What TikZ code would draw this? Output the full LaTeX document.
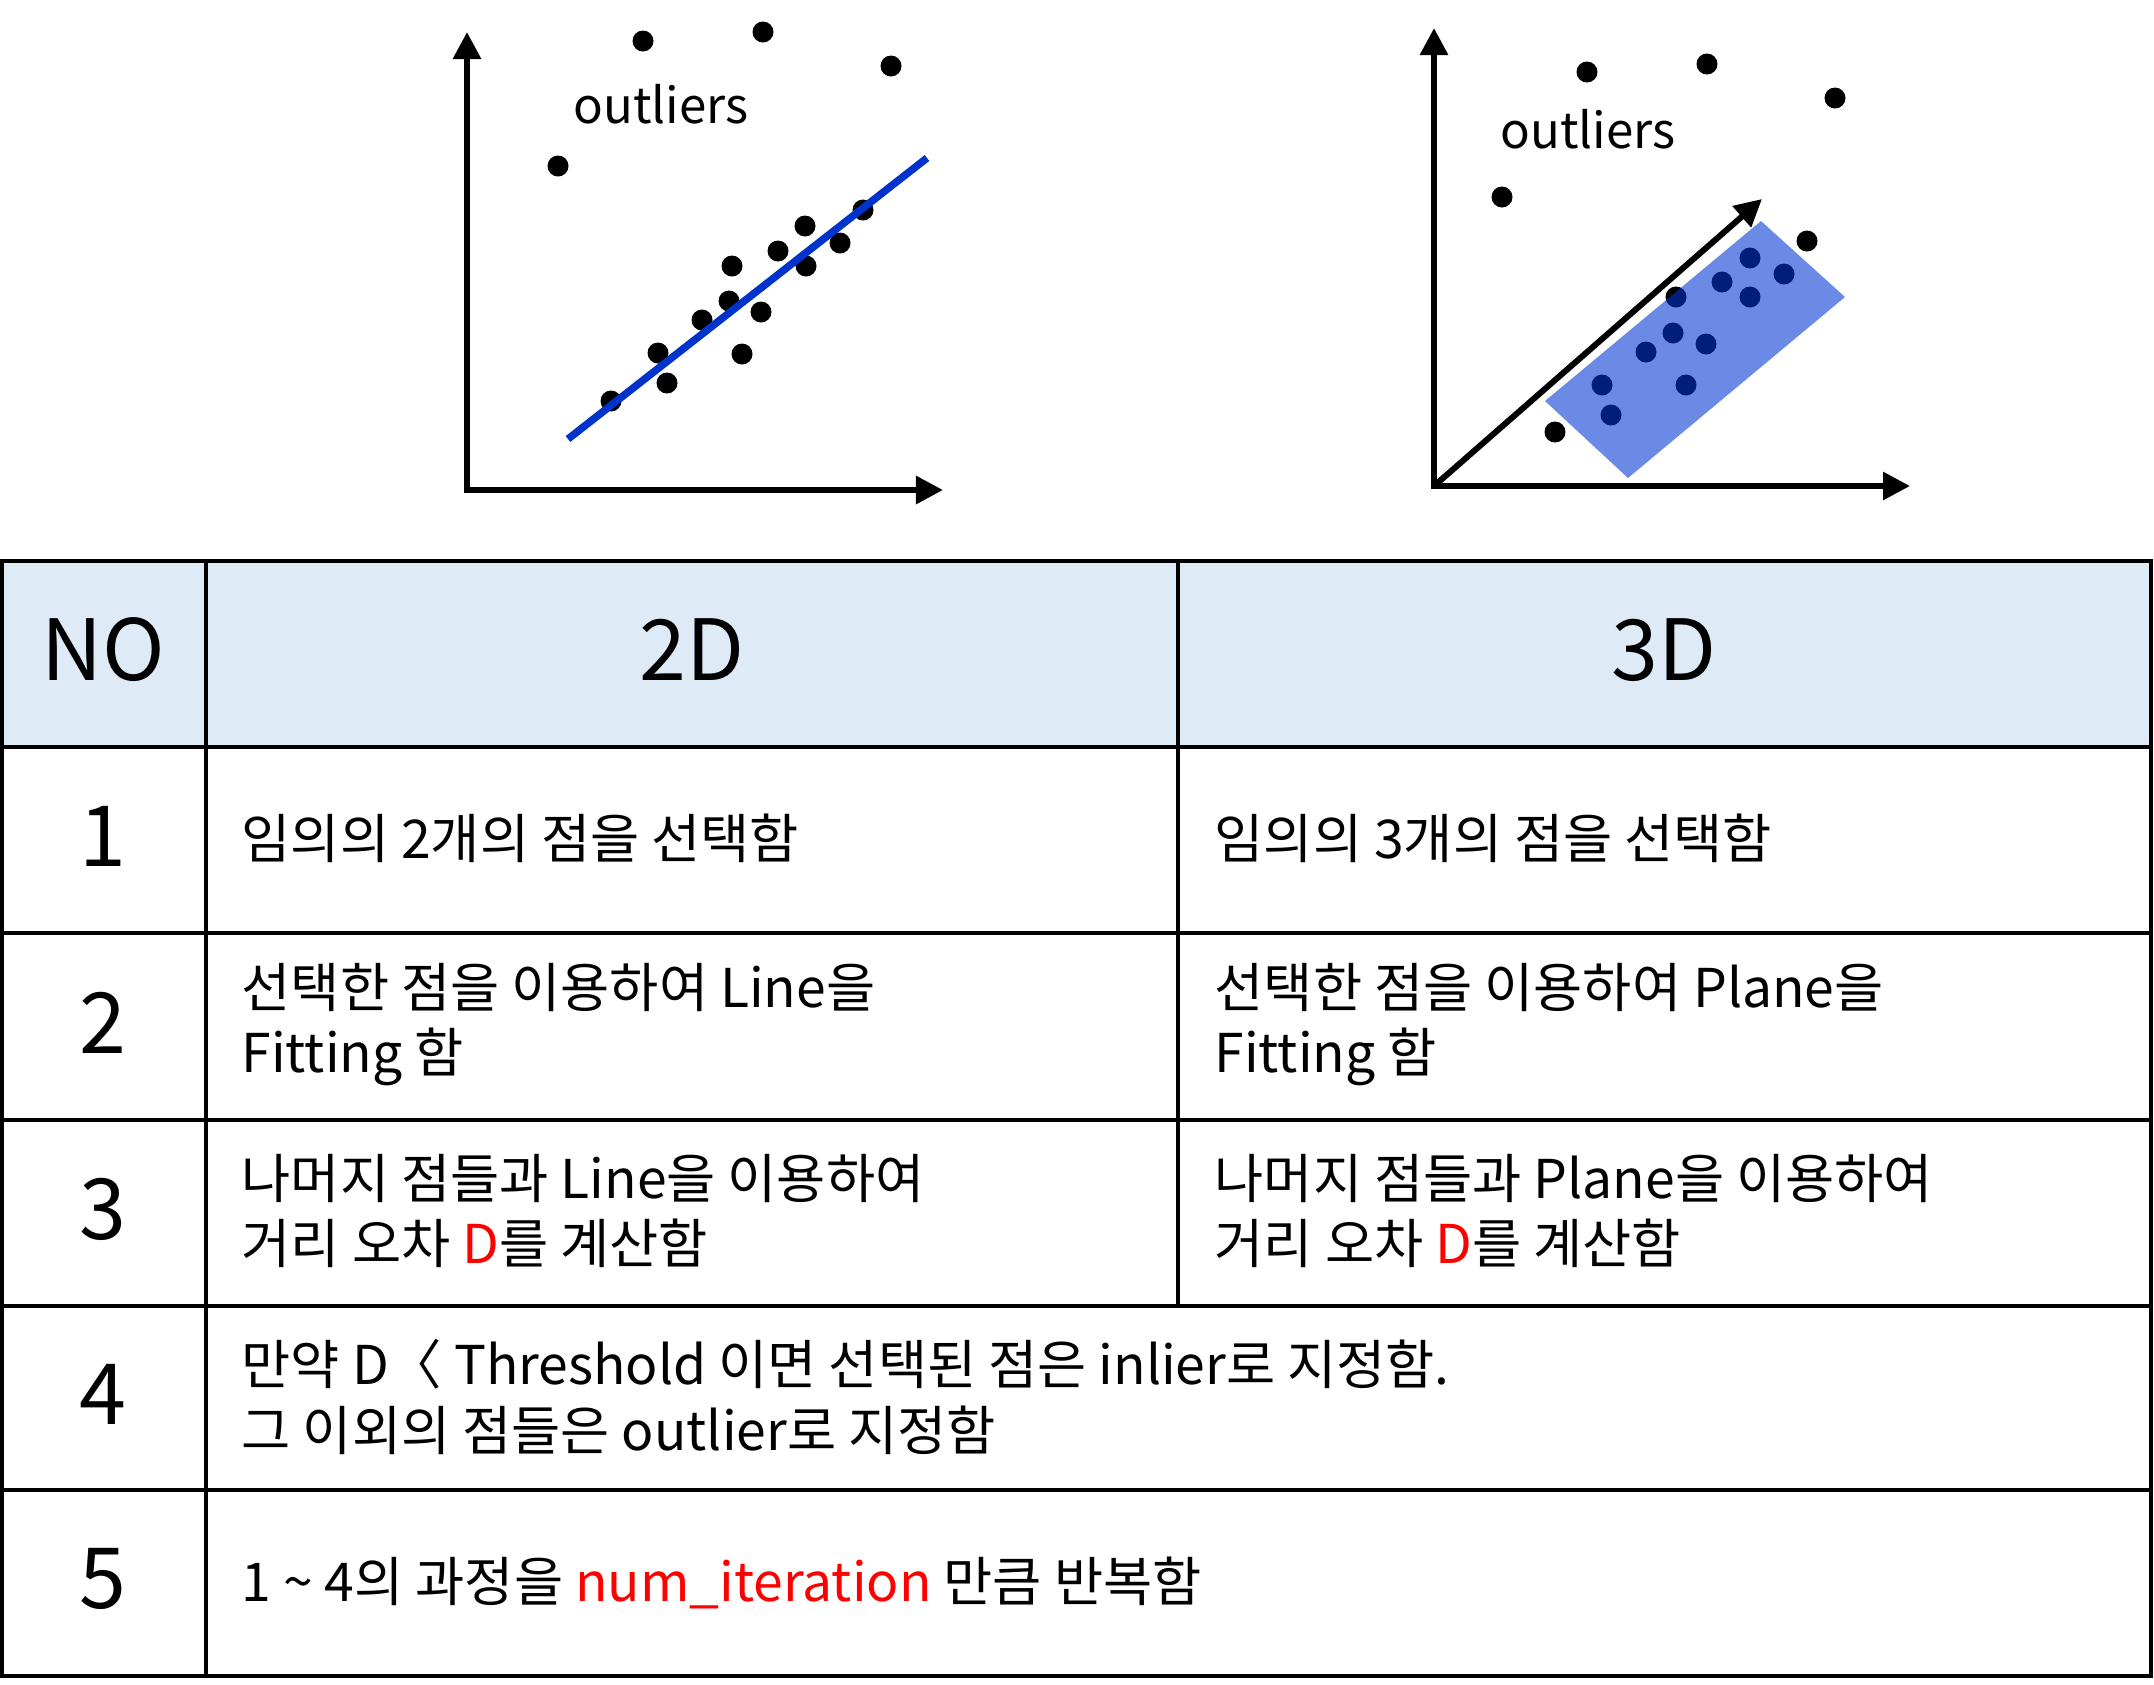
\documentclass[tikz,border=0pt]{standalone}
\usepackage{fontspec}
\setmainfont{Noto Sans CJK KR}
\usetikzlibrary{arrows.meta,positioning}
\definecolor{headblue}{HTML}{DEEBF7}
\definecolor{lineblue}{HTML}{0033CC}
\definecolor{planeblue}{HTML}{0036D4}

\begin{document}
\begin{tikzpicture}[x=0.01cm,y=-0.01cm,>={Triangle[length=0.27cm,width=0.27cm]},
	cell/.style={anchor=west,align=left,inner sep=0pt,font=\fontsize{15.2}{18.5}\selectfont},
	head/.style={inner sep=0pt,font=\fontsize{24}{28}\selectfont}]
	\useasboundingbox (0,0) rectangle (2154,1684);
	\draw[line width=0.06cm,<->] (467,32) -- (467,490) -- (943,490);
	\foreach \x/\y in {643/41,763/32,891/66,558/166,863/210,805/226,840/243,778/251,732/266,806/266,729/301,761/312,702/320,658/353,742/354,667/383,611/401}
	\fill (\x,\y) circle[radius=0.105cm];
	\draw[lineblue,line width=0.075cm] (568,439) -- (927,158);
	\node[anchor=base west,inner sep=0pt,font=\fontsize{14}{18}\selectfont] (out2d) at (573,123) {outliers};
	\draw[line width=0.06cm,<->] (1434,28) -- (1434,486) -- (1910,486);
	\draw[line width=0.06cm,->] (1434,486) -- (1762,199);
	\foreach \x/\y in {1587/72,1707/64,1835/98,1502/197,1807/241,1555/432,1750/258,1784/274,1722/282,1676/297,1750/297,1673/333,1706/344,1646/352,1602/385,1686/385,1611/415}
	\fill (\x,\y) circle[radius=0.105cm];
	\fill[planeblue,opacity=0.58] (1545,401) -- (1761,221) -- (1845,297) -- (1628,478) -- cycle;
	\node[anchor=base west,inner sep=0pt,font=\fontsize{14}{18}\selectfont] (out3d) at (1500,148) {outliers};
	\fill[headblue] (2,561) rectangle (2151,747);
	\draw[line width=0.04cm] (2,561) rectangle (2151,1676);
	\foreach \y in {747,933,1120,1306,1490}
	\draw[line width=0.04cm] (2,\y) -- (2151,\y);
	\draw[line width=0.04cm] (206,561) -- (206,1676);
	\draw[line width=0.04cm] (1178,561) -- (1178,1306);
	\node[head] (hno) at (103,650) {NO};
	\node[head] (h2d) at (692,650) {2D};
	\node[head] (h3d) at (1664,650) {3D};
	\foreach \n/\y in {1/836,2/1023,3/1209,4/1394,5/1579}
	\node[head] (n\n) at (103,\y) {\n};
	\node[cell] (r1a) at (241,838) {임의의 2개의 점을 선택함};
	\node[cell] (r1b) at (1214,838) {임의의 3개의 점을 선택함};
	\node[cell] (r2a) at (241,1025) {선택한 점을 이용하여 Line을\\Fitting 함};
	\node[cell] (r2b) at (1214,1025) {선택한 점을 이용하여 Plane을\\Fitting 함};
	\node[cell] (r3a) at (241,1211) {나머지 점들과 Line을 이용하여\\거리 오차 \textcolor{red}{D}를 계산함};
	\node[cell] (r3b) at (1214,1211) {나머지 점들과 Plane을 이용하여\\거리 오차 \textcolor{red}{D}를 계산함};
	\node[cell] (r4) at (241,1397) {만약 D〈 Threshold 이면 선택된 점은 inlier로 지정함.\\그 이외의 점들은 outlier로 지정함};
	\node[cell] (r5) at (241,1583) {1 \textasciitilde{} 4의 과정을 \textcolor{red}{num\_iteration} 만큼 반복함};
\end{tikzpicture}
\end{document}
